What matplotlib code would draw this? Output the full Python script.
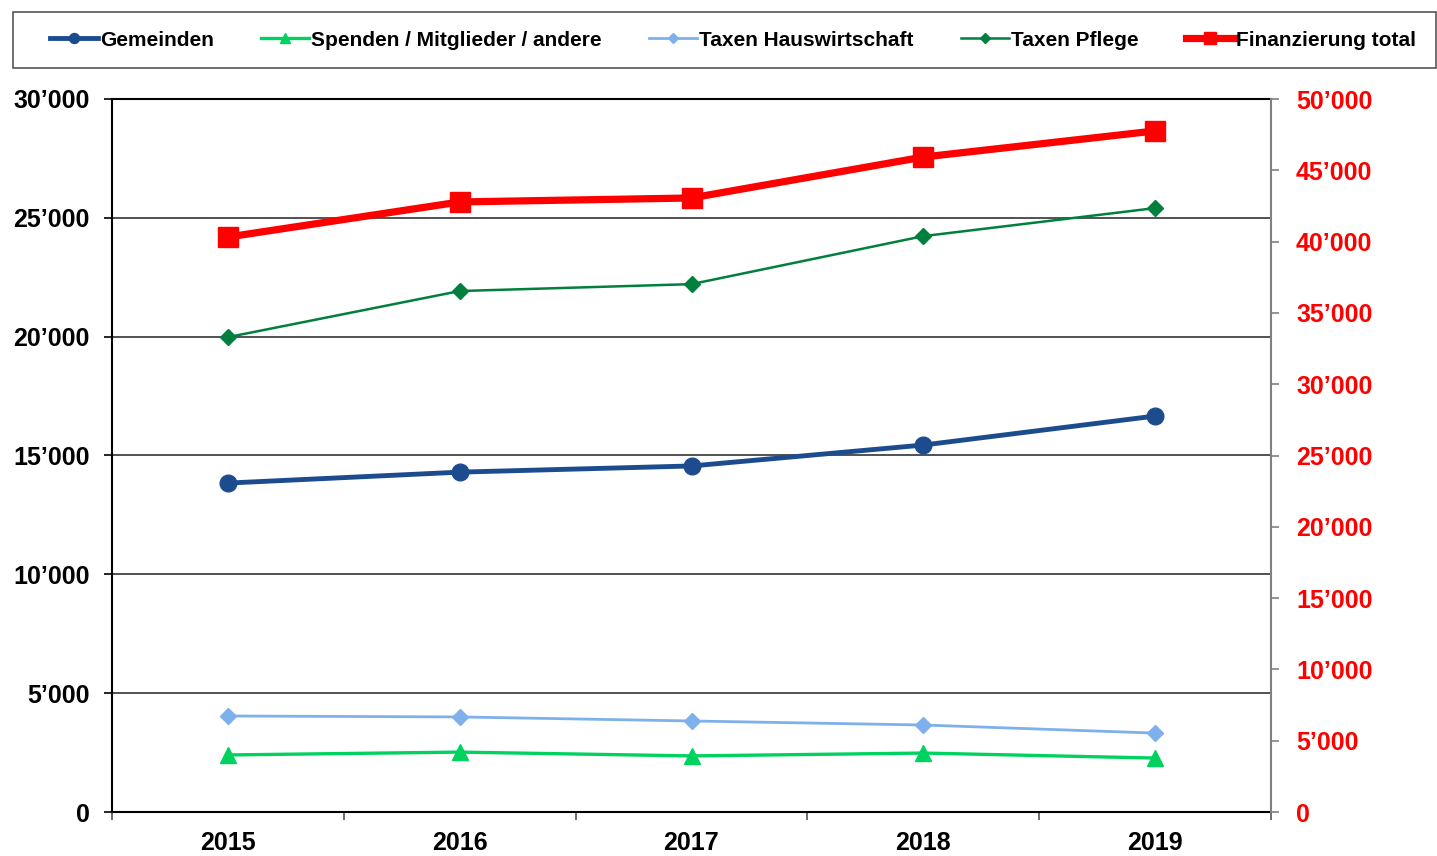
import matplotlib.pyplot as plt
from matplotlib.patches import Rectangle
from matplotlib.ticker import FuncFormatter, MultipleLocator, FixedLocator

plt.rcParams['font.family'] = ['Liberation Sans', 'DejaVu Sans']
plt.rcParams['font.weight'] = 'bold'

years = ['2015', '2016', '2017', '2018', '2019']
gemeinden = [13840, 14300, 14560, 15440, 16660]
spenden = [2400, 2520, 2360, 2480, 2270]
taxen_haus = [4040, 4000, 3830, 3660, 3320]
taxen_pflege = [19980, 21920, 22210, 24230, 25410]
total = [40320, 42780, 43060, 45930, 47760]


def thousands(v, pos):
    v = int(round(v))
    if v == 0:
        return '0'
    return f'{v:,}'.replace(',', '\u2019')


fig = plt.figure(figsize=(14.37, 8.56), dpi=100)
ax = fig.add_axes([112 / 1437, 44 / 856, 1159 / 1437, 713 / 856])
ax2 = ax.twinx()

x = list(range(len(years)))

# left axis series
l1, = ax.plot(x, gemeinden, color='#1D4C8E', lw=3.5, marker='o', ms=12, zorder=5, label='Gemeinden')
l2, = ax.plot(x, spenden, color='#00D25F', lw=2.4, marker='^', ms=11, zorder=5, label='Spenden / Mitglieder / andere')
l3, = ax.plot(x, taxen_haus, color='#7EB1EB', lw=2.0, marker='D', ms=8.5, zorder=5, label='Taxen Hauswirtschaft')
l4, = ax.plot(x, taxen_pflege, color='#00803C', lw=1.8, marker='D', ms=8.5, zorder=5, label='Taxen Pflege')

# right axis: total
l5, = ax2.plot(x, total, color='#FF0000', lw=5.2, marker='s', ms=14, zorder=5, label='Finanzierung total')

ax.set_xlim(-0.5, 4.5)
ax.set_ylim(0, 30000)
ax2.set_ylim(0, 50000)

ax.yaxis.set_major_locator(MultipleLocator(5000))
ax2.yaxis.set_major_locator(MultipleLocator(5000))
ax.yaxis.set_major_formatter(FuncFormatter(thousands))
ax2.yaxis.set_major_formatter(FuncFormatter(thousands))

ax.set_xticks(x)
ax.set_xticklabels(years)
ax.xaxis.set_minor_locator(FixedLocator([-0.5, 0.5, 1.5, 2.5, 3.5, 4.5]))
ax.tick_params(axis='x', which='major', length=0, pad=14, labelsize=18)
ax.tick_params(axis='x', which='minor', length=6, width=1.2, color='#555555')
ax.tick_params(axis='y', length=6, width=1.2, pad=10, labelsize=18)
ax2.tick_params(axis='y', length=6, width=1.2, color='#808080', pad=12, labelsize=18, labelcolor='#FF0000')

ax.grid(axis='y', color='#333333', lw=1.2)
ax.set_axisbelow(True)

for s in ['left', 'bottom', 'top']:
    ax.spines[s].set_linewidth(1.5)
    ax.spines[s].set_color('black')
ax.spines['right'].set_visible(False)
ax2.spines['right'].set_color('#808080')
ax2.spines['right'].set_linewidth(1.5)
for s in ['left', 'bottom', 'top']:
    ax2.spines[s].set_visible(False)

# legend box drawn separately, legend entries spread inside it
fig.patches.append(Rectangle((13 / 1437, 788 / 856), 1423 / 1437, 56 / 856,
                             transform=fig.transFigure, fill=False,
                             edgecolor='#555555', lw=1.2))
fig.legend(handles=[l1, l2, l3, l4, l5], loc='center', ncol=5, mode='expand',
           bbox_to_anchor=(50 / 1437, 788 / 856, 1366 / 1437, 56 / 856),
           fontsize=15, handlelength=2.3, handletextpad=0.1, borderaxespad=0,
           borderpad=0, markerscale=0.6, frameon=False)

fig.savefig('out.png', dpi=100)
